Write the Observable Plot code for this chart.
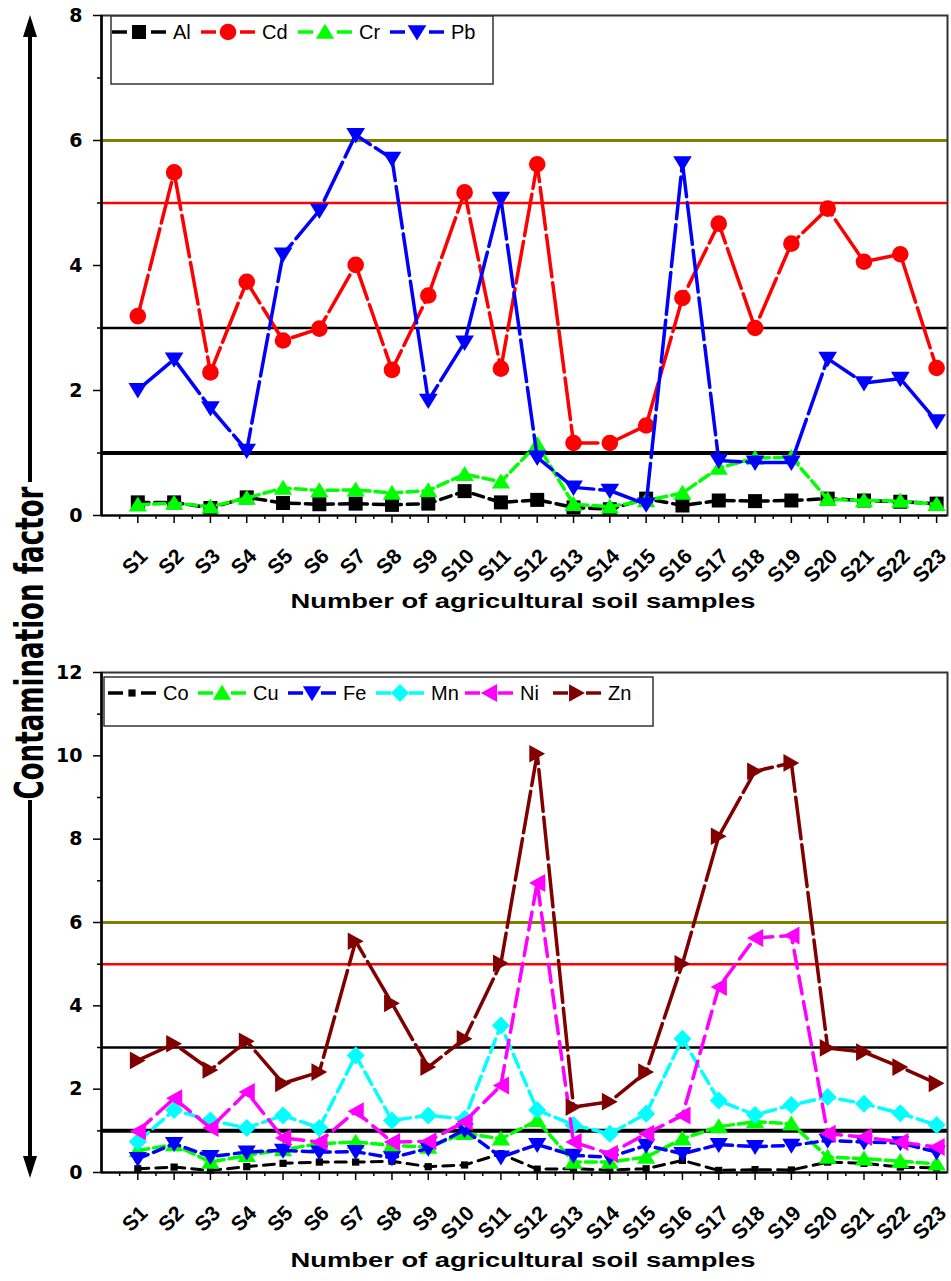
<!DOCTYPE html>
<html><head><meta charset="utf-8">
<script src="https://cdn.jsdelivr.net/npm/d3@7"></script>
<script src="https://cdn.jsdelivr.net/npm/@observablehq/plot@0.6"></script>
<style>
html,body{margin:0;padding:0;background:#fff}
body{width:951px;height:1281px;position:relative;overflow:hidden;font-family:"Liberation Sans",Arial,sans-serif}
#top{position:absolute;left:0;top:0}
#bot{position:absolute;left:0;top:657px}
#overlay{position:absolute;left:0;top:0;pointer-events:none}
</style></head><body>
<div id="top"></div><div id="bot"></div>
<svg id="overlay" width="951" height="1281"></svg>
<script>
// ---- data ----
const samples = ["S1","S2","S3","S4","S5","S6","S7","S8","S9","S10","S11","S12","S13","S14","S15","S16","S17","S18","S19","S20","S21","S22","S23"];
const topTicks = [0,2,4,6,8];
const botTicks = [0,2,4,6,8,10,12];
const refLevels = [1,3,5,6];

const al = [0.21,0.21,0.12,0.29,0.20,0.18,0.19,0.17,0.19,0.39,0.21,0.25,0.13,0.10,0.27,0.16,0.24,0.23,0.24,0.27,0.24,0.22,0.19];
const cd = [3.19,5.49,2.29,3.74,2.80,2.99,4.01,2.33,3.52,5.17,2.35,5.62,1.16,1.16,1.44,3.48,4.67,3.00,4.35,4.91,4.06,4.18,2.36];
const cr = [0.17,0.20,0.14,0.28,0.44,0.40,0.41,0.36,0.40,0.66,0.54,1.14,0.18,0.14,0.24,0.36,0.76,0.92,0.93,0.26,0.24,0.23,0.18];
const pb = [2.01,2.50,1.72,1.04,4.18,4.88,6.09,5.71,1.84,2.77,5.07,0.93,0.45,0.40,0.18,5.64,0.88,0.85,0.85,2.51,2.12,2.19,1.51];

const co = [0.09,0.13,0.05,0.14,0.22,0.25,0.25,0.27,0.14,0.18,0.45,0.08,0.09,0.06,0.09,0.29,0.05,0.07,0.06,0.25,0.22,0.13,0.11];
const cu = [0.53,0.67,0.25,0.41,0.55,0.69,0.73,0.65,0.61,0.94,0.81,1.25,0.25,0.25,0.37,0.81,1.10,1.22,1.17,0.37,0.33,0.27,0.21];
const fe = [0.33,0.69,0.38,0.49,0.53,0.49,0.50,0.35,0.58,1.02,0.37,0.67,0.41,0.37,0.65,0.45,0.67,0.62,0.65,0.77,0.73,0.71,0.49];
const mn = [0.74,1.50,1.25,1.07,1.37,1.07,2.81,1.25,1.37,1.29,3.53,1.50,1.14,0.93,1.41,3.21,1.73,1.38,1.62,1.81,1.65,1.42,1.14];
const ni = [0.99,1.78,1.07,1.93,0.83,0.73,1.47,0.73,0.75,1.22,2.09,6.95,0.73,0.45,0.93,1.37,4.45,5.63,5.69,0.93,0.85,0.73,0.61];
const zn = [2.69,3.09,2.46,3.15,2.14,2.41,5.55,4.06,2.53,3.21,5.02,10.05,1.57,1.70,2.41,5.01,8.07,9.63,9.83,2.99,2.89,2.53,2.14];

// ---- custom marker symbols ----
function sym(fn){ return {draw(ctx, size){ const h = Math.sqrt(size/Math.PI); fn(ctx,h); }}; }
const SQUARE = sym((c,h)=>{c.moveTo(-h,-h);c.lineTo(h,-h);c.lineTo(h,h);c.lineTo(-h,h);c.closePath();});
const CIRCLE = sym((c,h)=>{c.moveTo(h,0);c.arc(0,0,h,0,2*Math.PI);c.closePath();});
const TRI_UP = sym((c,h)=>{c.moveTo(0,-h);c.lineTo(1.1*h,0.8*h);c.lineTo(-1.1*h,0.8*h);c.closePath();});
const TRI_DOWN = sym((c,h)=>{c.moveTo(0,h);c.lineTo(1.1*h,-0.8*h);c.lineTo(-1.1*h,-0.8*h);c.closePath();});
const TRI_LEFT = sym((c,h)=>{c.moveTo(-0.9*h,0);c.lineTo(0.9*h,-h);c.lineTo(0.9*h,h);c.closePath();});
const TRI_RIGHT = sym((c,h)=>{c.moveTo(0.9*h,0);c.lineTo(-0.9*h,-h);c.lineTo(-0.9*h,h);c.closePath();});
const DIAMOND = sym((c,h)=>{c.moveTo(0,-h);c.lineTo(h,0);c.lineTo(0,h);c.lineTo(-h,0);c.closePath();});

const topSeries = [
  {name:"Al", values:al, color:"#000000", sym:SQUARE, r:7, dash:"11,6", lx:139},
  {name:"Cd", values:cd, color:"#ff0000", sym:CIRCLE, r:8.3, dash:"42,6", lx:228},
  {name:"Cr", values:cr, color:"#00ff00", sym:TRI_UP, r:8.3, dash:"11,5", lx:325},
  {name:"Pb", values:pb, color:"#0000ff", sym:TRI_DOWN, r:8.5, dash:"42,6", lx:417}
];
const botSeries = [
  {name:"Co", values:co, color:"#000000", sym:SQUARE, r:3.6, dash:"11,7", lx:132},
  {name:"Cu", values:cu, color:"#00ff00", sym:TRI_UP, r:8.3, dash:"11,5", lx:222},
  {name:"Fe", values:fe, color:"#0000ff", sym:TRI_DOWN, r:8.3, dash:"11,6", lx:312},
  {name:"Mn", values:mn, color:"#00ffff", sym:DIAMOND, r:9, dash:"14,6", lx:400},
  {name:"Ni", values:ni, color:"#ff00ff", sym:TRI_LEFT, r:9, dash:"18,8", lx:489},
  {name:"Zn", values:zn, color:"#800000", sym:TRI_RIGHT, r:8.8, dash:"42,6", lx:577}
];

function chart(series, ymax, majorTicks, height, marginBottom){
  const idx = samples.map((s,i)=>i+1);
  const minorX = samples.map((s,i)=>i+0.5);
  const minorY = d3.range(1, ymax, 2);
  const marks = [
    Plot.ruleY([refLevels[3]],{stroke:"#808000",strokeWidth:3}),
    Plot.ruleY([refLevels[2]],{stroke:"#ff0000",strokeWidth:2.5}),
    Plot.ruleY([refLevels[1]],{stroke:"#000000",strokeWidth:2.5}),
    Plot.ruleY([refLevels[0]],{stroke:"#000000",strokeWidth:4}),
    Plot.axisY(majorTicks,{tickSize:8,tickPadding:11,fontSize:19,fontWeight:"bold",label:null,strokeWidth:1.5,fill:"#000",tickFormat:d=>String(d)}),
    Plot.axisY(minorY,{tickSize:4,tickFormat:()=>"",label:null,strokeWidth:1.5}),
    Plot.axisX(idx,{tickSize:8,tickFormat:()=>"",label:null,strokeWidth:1.5}),
    Plot.axisX(minorX,{tickSize:4,tickFormat:()=>"",label:null,strokeWidth:1.5}),
    Plot.text(samples,{x:(d,i)=>i+1,frameAnchor:"bottom",text:d=>d,rotate:-45,textAnchor:"end",lineAnchor:"bottom",dx:11,dy:42,fontSize:21,fontWeight:"bold",fontFamily:"Liberation Sans",fill:"#000"})
  ];
  for (const s of series){
    const rows = s.values.map((v,i)=>({i:i+1, v}));
    marks.push(Plot.line(rows,{x:"i",y:"v",stroke:s.color,strokeWidth:s.name==="Co"?3:3.5,strokeDasharray:s.dash}));
    marks.push(Plot.dot(rows,{x:"i",y:"v",symbol:s.sym,r:s.r,fill:s.color,stroke:"none"}));
  }
  marks.push(Plot.frame({stroke:"#333",strokeWidth:2}));
  marks.push(Plot.ruleX([0],{stroke:"#000",strokeWidth:2.5}));
  marks.push(Plot.ruleY([0],{stroke:"#000",strokeWidth:2}));
  return Plot.plot({
    width:951, height, marginLeft:101, marginRight:4, marginTop:15, marginBottom,
    x:{domain:[0,23.3]},
    y:{domain:[0,ymax]},
    style:{fontFamily:"DejaVu Sans",background:"none",overflow:"visible"},
    marks
  });
}

document.getElementById("top").appendChild(chart(topSeries, 8, topTicks, 630, 115));
document.getElementById("bot").appendChild(chart(botSeries, 12, botTicks, 624, 109));

// ---- overlay: shared axis title, arrows, x titles, legends ----
const ov = d3.select("#overlay");
ov.append("text").attr("transform","translate(43,643) rotate(-90)")
  .attr("text-anchor","middle").attr("font-family","'Liberation Sans Narrow','DejaVu Sans Condensed',sans-serif")
  .attr("font-weight","bold").attr("font-size",39).attr("textLength",313).attr("lengthAdjust","spacingAndGlyphs")
  .text("Contamination factor");
ov.append("line").attr("x1",30).attr("x2",30).attr("y1",482).attr("y2",34).attr("stroke","#000").attr("stroke-width",4);
ov.append("path").attr("d","M30,15L23,37L37,37Z").attr("fill","#000");
ov.append("line").attr("x1",30).attr("x2",30).attr("y1",800).attr("y2",1158).attr("stroke","#000").attr("stroke-width",4);
ov.append("path").attr("d","M30,1178L23,1156L37,1156Z").attr("fill","#000");

const xTitle = "Number of agricultural soil samples";
for (const y of [608, 1267]) {
  ov.append("text").attr("x",523).attr("y",y).attr("text-anchor","middle")
    .attr("font-family","'Liberation Sans',Arial,sans-serif").attr("font-weight","bold").attr("font-size",20)
    .attr("textLength",465).attr("lengthAdjust","spacingAndGlyphs").text(xTitle);
}

function legend(series, box, cy, half, textGap){
  ov.append("rect").attr("x",box[0]).attr("y",box[1]).attr("width",box[2]).attr("height",box[3])
    .attr("fill","#fff").attr("stroke","#333").attr("stroke-width",1.5);
  for (const s of series){
    const g = ov.append("g");
    g.append("line").attr("x1",s.lx-half).attr("x2",s.lx-half+15).attr("y1",cy).attr("y2",cy).attr("stroke",s.color).attr("stroke-width",3.5);
    g.append("line").attr("x1",s.lx+half-15).attr("x2",s.lx+half).attr("y1",cy).attr("y2",cy).attr("stroke",s.color).attr("stroke-width",3.5);
    g.append("path").attr("transform",`translate(${s.lx},${cy})`).attr("fill",s.color)
      .attr("d", d3.symbol().type(s.sym).size(s.r*s.r*Math.PI)());
    g.append("text").attr("x",s.lx+textGap).attr("y",cy+7).attr("font-family","'Liberation Sans',Arial,sans-serif")
      .attr("font-size",20).attr("fill","#000").text(s.name);
  }
}
legend(topSeries, [111,16,382,68], 32, 27, 34);
legend(botSeries, [104,677,549,49], 693, 24, 31);
</script>
</body></html>
